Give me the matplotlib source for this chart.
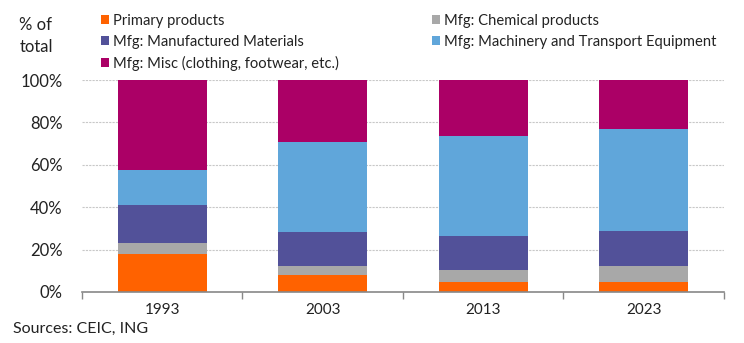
import matplotlib.pyplot as plt
import matplotlib.ticker as mtick
import numpy as np

plt.rcParams['font.family'] = ['Lato', 'DejaVu Sans']

years = ['1993', '2003', '2013', '2023']
primary = [18.0, 8.0, 4.7, 4.7]
chemical = [5.0, 4.3, 5.7, 7.6]
manufactured = [18.0, 16.0, 16.0, 16.5]
machinery = [16.5, 42.5, 47.2, 48.1]
misc = [42.5, 29.2, 26.4, 23.1]

series = [
    ('Primary products', primary, '#FF6200'),
    ('Mfg: Chemical products', chemical, '#A8A8A8'),
    ('Mfg: Manufactured Materials', manufactured, '#525199'),
    ('Mfg: Machinery and Transport Equipment', machinery, '#60A6DA'),
    ('Mfg: Misc (clothing, footwear, etc.)', misc, '#AB0066'),
]

fig = plt.figure(figsize=(7.44, 3.43), dpi=100)
ax = fig.add_axes([0.110, 0.1487, 0.863, 0.618])

x = np.arange(len(years))
bottom = np.zeros(len(years))
bars = {}
for name, vals, col in series:
    bars[name] = ax.bar(x, vals, 0.555, bottom=bottom, color=col, label=name, zorder=3)
    bottom += np.array(vals)

ax.set_xlim(-0.5, len(years) - 0.5)
ax.set_ylim(0, 100)
ax.set_yticks(range(0, 101, 20))
ax.yaxis.set_major_formatter(mtick.FuncFormatter(lambda v, p: f'{v:.0f}%'))
ax.set_xticks(x)
ax.set_xticklabels(years)
ax.set_xticks(np.arange(-0.5, len(years)), minor=True)
ax.tick_params(axis='x', which='major', length=0, pad=8, labelsize=11, colors='#222222')
ax.tick_params(axis='x', which='minor', length=5, color='#888888', width=1)
ax.tick_params(axis='y', length=0, pad=14, labelsize=12, colors='#222222')
ax.grid(axis='y', color='#C8C8C8', linestyle=(0, (2, 1)), linewidth=0.8, zorder=0)
for s in ['top', 'right', 'left']:
    ax.spines[s].set_visible(False)
ax.spines['bottom'].set_color('#888888')
ax.spines['bottom'].set_linewidth(1.2)
ax.spines['bottom'].set_zorder(4)

fig.text(0.026, 0.895, '% of\ntotal', fontsize=12, color='#222222', va='center', ha='left', linespacing=1.5)

order = ['Primary products', 'Mfg: Manufactured Materials', 'Mfg: Misc (clothing, footwear, etc.)',
         'Mfg: Chemical products', 'Mfg: Machinery and Transport Equipment']
leg = fig.legend([bars[n] for n in order], order, ncol=2, loc='upper left',
                 bbox_to_anchor=(0.1216, 0.99), frameon=False, fontsize=10.6,
                 handlelength=0.55, handleheight=0.55, handletextpad=0.3,
                 columnspacing=6.3, labelspacing=0.48, borderaxespad=0.3)
for t in leg.get_texts():
    t.set_color('#222222')

fig.text(0.018, 0.02, 'Sources: CEIC, ING', fontsize=11.5, color='#222222', ha='left', va='bottom')

fig.savefig('out.png', dpi=100)
